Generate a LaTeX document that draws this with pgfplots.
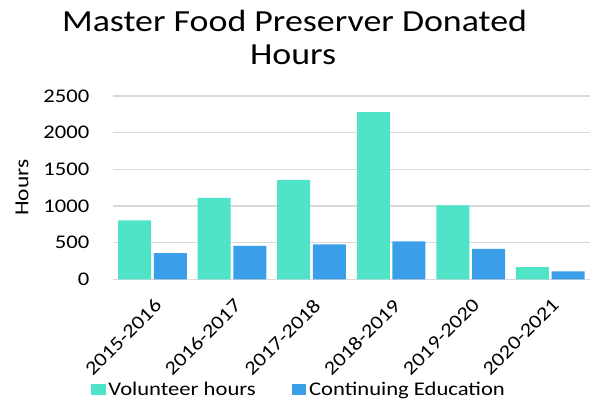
\documentclass[border=0pt]{standalone}
\usepackage{pgfplots}
\pgfplotsset{compat=1.18}
\usepackage{fontspec}
\setmainfont[FakeStretch=1.17]{Carlito}
\definecolor{vol}{RGB}{79,227,200}
\definecolor{ced}{RGB}{58,159,232}
\definecolor{grd}{RGB}{217,217,217}
\begin{document}
\begin{tikzpicture}
\path[use as bounding box] (0,0) rectangle (458.25pt,300pt);
\node[font=\fontsize{23}{28}\selectfont, anchor=base, inner sep=0pt] at (220.9pt,276.2pt) {Master Food Preserver Donated};
\node[font=\fontsize{23}{28}\selectfont, anchor=base, inner sep=0pt] at (219.8pt,251.8pt) {Hours};
\begin{axis}[
  at={(84.5pt,90.5pt)}, anchor=south west,
  scale only axis, width=358pt, height=137.5pt,
  xmin=-0.5, xmax=5.5, ymin=0, ymax=2500,
  ybar, bar width=0.415, 
  axis line style={draw=none},
  ymajorgrids, grid style={grd, line width=0.9pt},
  ytick={0,500,1000,1500,2000,2500},
  xtick={0,1,2,3,4,5},
  xticklabels={2015-2016,2016-2017,2017-2018,2018-2019,2019-2020,2020-2021},
  major tick length=0pt,
  x tick label style={rotate=45, anchor=north east, font=\fontsize{14.5}{16}\selectfont, inner sep=0pt, xshift=-9pt, yshift=-10pt},
  y tick label style={font=\fontsize{14.5}{16}\selectfont, xshift=-14pt},
  /pgf/number format/assume math mode=true,
  /pgf/number format/1000 sep={},
  ylabel={Hours}, ylabel style={font=\fontsize{15}{17}\selectfont, at={(axis description cs:-0.19,0.5)}, anchor=center, rotate=0},
  legend style={draw=none, at={(axis description cs:0.391,-0.60)}, anchor=center, legend columns=2, font=\fontsize{14.5}{16}\selectfont, /tikz/every even column/.append style={column sep=25pt}, inner sep=0pt},
  legend image code/.code={\fill[#1] (0pt,-4pt) rectangle (11pt,4pt);},
]
\addplot[fill=vol, draw=none] coordinates {(0,805) (1,1110) (2,1355) (3,2280) (4,1010) (5,168)};
\addplot[fill=ced, draw=none] coordinates {(0,357) (1,455) (2,478) (3,518) (4,414) (5,108)};
\legend{Volunteer hours, Continuing Education}
\end{axis}
\end{tikzpicture}
\end{document}
